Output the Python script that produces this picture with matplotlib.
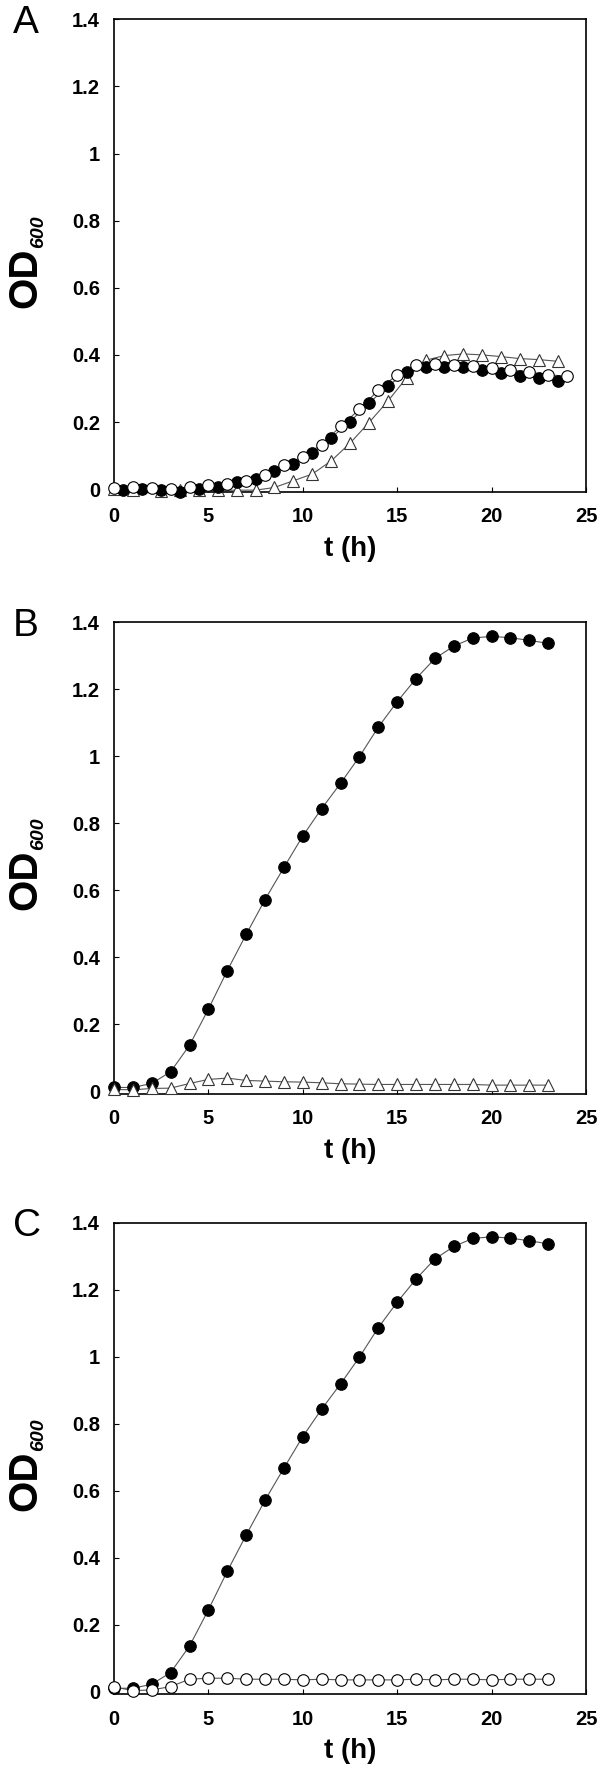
import matplotlib
matplotlib.use("Agg")
import matplotlib.pyplot as plt
from matplotlib import font_manager

W, H = 601, 1771
FONT = "Liberation Sans"
# the OD label in the reference is tall and narrow: use the narrow cut if present
_names = {f.name for f in font_manager.fontManager.ttflist}
NARROW = "Liberation Sans Narrow" if "Liberation Sans Narrow" in _names else FONT

# ---- data --------------------------------------------------------------------
# panel A
a_t_closed = [0.5, 1.5, 2.5, 3.5, 4.5, 5.5, 6.5, 7.5, 8.5, 9.5, 10.5, 11.5,
              12.5, 13.5, 14.5, 15.5, 16.5, 17.5, 18.5, 19.5, 20.5, 21.5, 22.5, 23.5]
a_od_closed = [-0.003, 0.0, -0.003, -0.009, 0.0, 0.006, 0.022, 0.031, 0.055, 0.074, 0.107, 0.153,
               0.201, 0.256, 0.307, 0.349, 0.364, 0.365, 0.363, 0.356, 0.346, 0.336, 0.332, 0.323]
a_t_open = list(range(0, 25))
a_od_open = [0.002, 0.006, 0.002, 0.001, 0.005, 0.011, 0.014, 0.025, 0.042, 0.071, 0.097, 0.133,
             0.187, 0.238, 0.295, 0.341, 0.369, 0.372, 0.369, 0.367, 0.361, 0.355, 0.349, 0.341, 0.336]
a_t_tri = [0, 1, 2.5, 3.5, 4.5, 5.5, 6.5, 7.5, 8.5, 9.5, 10.5, 11.5, 12.5, 13.5, 14.5,
           15.5, 16.5, 17.5, 18.5, 19.5, 20.5, 21.5, 22.5, 23.5]
a_od_tri = [0.0, -0.004, -0.005, -0.004, -0.004, -0.004, -0.003, -0.003, 0.005, 0.025, 0.045, 0.084,
            0.137, 0.198, 0.262, 0.332, 0.384, 0.398, 0.403, 0.400, 0.395, 0.389, 0.386, 0.381]

# panels B and C share the wild-type curve
bc_t = list(range(0, 24))
bc_od_closed = [0.011, 0.011, 0.023, 0.058, 0.137, 0.245, 0.360, 0.468, 0.572, 0.668, 0.762, 0.844,
                0.919, 0.999, 1.087, 1.163, 1.232, 1.292, 1.329, 1.353, 1.358, 1.354, 1.346, 1.337]
b_od_tri = [0.005, 0.004, 0.008, 0.009, 0.023, 0.035, 0.039, 0.032, 0.030, 0.028, 0.027, 0.025,
            0.022, 0.021, 0.020, 0.020, 0.020, 0.020, 0.020, 0.020, 0.018, 0.018, 0.018, 0.018]
c_od_open = [0.015, 0.004, 0.006, 0.016, 0.038, 0.041, 0.041, 0.038, 0.038, 0.038, 0.036, 0.038,
             0.036, 0.036, 0.036, 0.036, 0.038, 0.036, 0.038, 0.038, 0.036, 0.038, 0.038, 0.038]

x_ticks = [0, 5, 10, 15, 20, 25]
y_ticks = [0, 0.2, 0.4, 0.6, 0.8, 1.0, 1.2, 1.4]
y_ticklabels = ["0", "0.2", "0.4", "0.6", "0.8", "1", "1.2", "1.4"]

# ---- layout (pixel boxes: top, bottom of each axes) ----------------------------
LEFT, RIGHT = 114, 586
panels = [("A", 19.3, 491.5), ("B", 622.3, 1093.5), ("C", 1222.7, 1694.3)]

fig = plt.figure(figsize=(W / 100, H / 100), dpi=100)
axes = []
for letter, top, bottom in panels:
    ax = fig.add_axes([LEFT / W, 1 - bottom / H, (RIGHT - LEFT) / W, (bottom - top) / H])
    ax.set_xlim(0, 25)
    ax.set_ylim(-0.007, 1.4)
    ax.set_xticks(x_ticks)
    ax.set_xticklabels([str(v) for v in x_ticks])
    ax.set_yticks(y_ticks)
    ax.set_yticklabels(y_ticklabels)
    ax.tick_params(direction="in", length=3.5, width=0.8, pad=10)
    ax.tick_params(axis="x", pad=11)
    for lab in ax.get_xticklabels() + ax.get_yticklabels():
        lab.set_fontfamily(FONT)
        lab.set_fontweight("bold")
        lab.set_fontsize(14.5)
    for s in ax.spines.values():
        s.set_linewidth(1.2)
    ax.set_xlabel("t (h)", fontfamily=FONT, fontweight="bold", fontsize=20, labelpad=7)

    # y label: OD with subscript 600, placed by hand
    mid = (top + bottom) / 2
    fig.text(25 / W, 1 - (mid + 22) / H, "OD", rotation=90, ha="center", va="center",
             fontfamily=NARROW, fontweight="bold", fontsize=29)
    fig.text(38.5 / W, 1 - (mid - 24) / H, "600", rotation=90, ha="center", va="center",
             fontfamily=FONT, fontweight="bold", fontstyle="italic", fontsize=14)
    fig.text(13 / W, 1 - (top + 13.5) / H, letter, ha="left", va="baseline",
             fontfamily=FONT, fontsize=28)
    axes.append(ax)

line_kw = dict(color="#555555", lw=0.8, clip_on=False, zorder=2)
closed_kw = dict(marker="o", ms=8.3, mfc="black", mec="black", mew=0.8, ls="none", clip_on=False, zorder=4)
open_kw = dict(marker="o", ms=8.3, mfc="white", mec="black", mew=0.8, ls="none", clip_on=False, zorder=5)
tri_kw = dict(marker="^", ms=8.5, mfc="white", mec="#333333", mew=0.8, ls="none", clip_on=False, zorder=3)

ax = axes[0]
ax.plot(a_t_tri, a_od_tri, **line_kw)
ax.plot(a_t_closed, a_od_closed, **line_kw)
ax.plot(a_t_open, a_od_open, **line_kw)
ax.plot(a_t_tri, a_od_tri, **tri_kw)
ax.plot(a_t_closed, a_od_closed, **closed_kw)
ax.plot(a_t_open, a_od_open, **open_kw)

ax = axes[1]
ax.plot(bc_t, bc_od_closed, **line_kw)
ax.plot(bc_t, b_od_tri, **line_kw)
ax.plot(bc_t, bc_od_closed, **closed_kw)
ax.plot(bc_t, b_od_tri, **dict(tri_kw, zorder=5))

ax = axes[2]
ax.plot(bc_t, bc_od_closed, **line_kw)
ax.plot(bc_t, c_od_open, **line_kw)
ax.plot(bc_t, bc_od_closed, **closed_kw)
ax.plot(bc_t, c_od_open, **open_kw)

fig.savefig("out.png", dpi=100)
